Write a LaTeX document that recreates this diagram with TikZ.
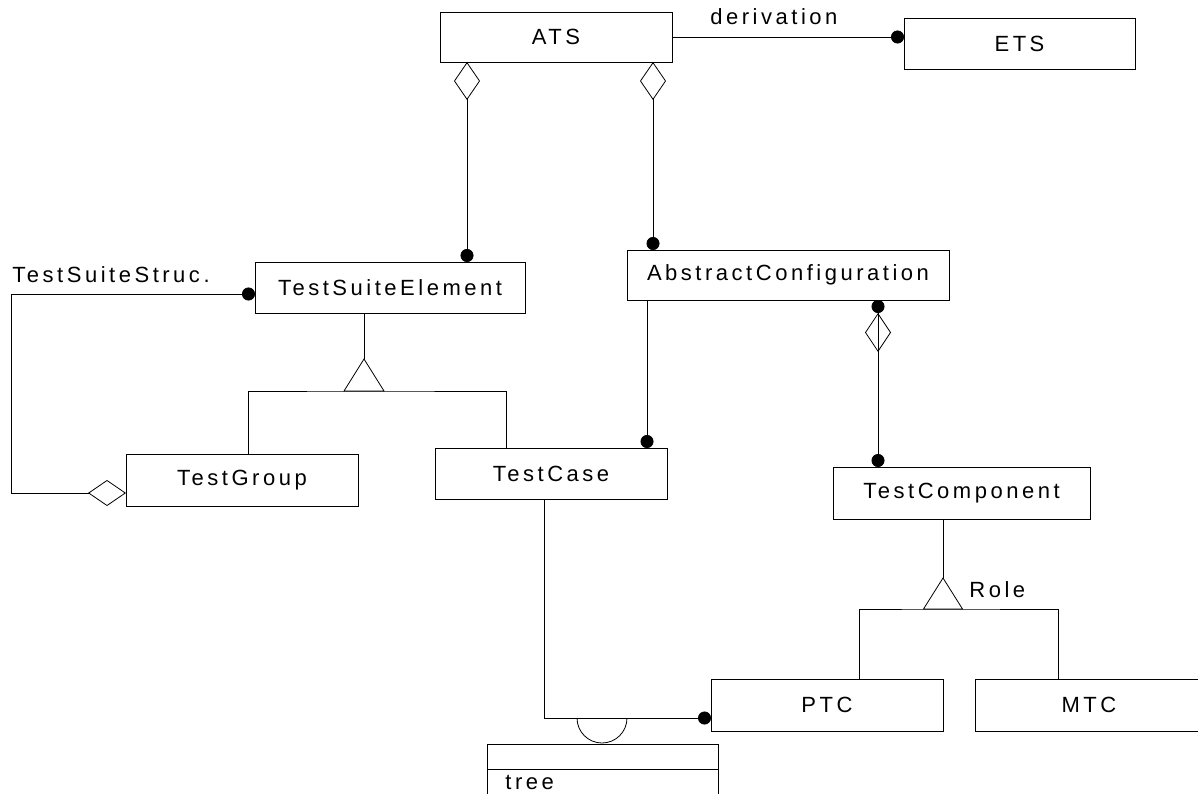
\documentclass[tikz,border=0pt]{standalone}
\usepackage{fontspec}
\setmainfont{Liberation Sans}[LetterSpace=16]
\usetikzlibrary{arrows.meta,calc}
\newcommand\diafont{\fontsize{22}{26}\selectfont}
\begin{document}
\begin{tikzpicture}[x=1pt,y=-1pt,line width=0.8pt,
  box/.style={draw,rectangle,inner sep=0pt,outer sep=0pt,minimum height=51pt,font=\diafont},
  lbl/.style={inner sep=0pt,anchor=base west,font=\diafont},
  assoc/.style={-{Circle[length=13pt,width=13pt]}},
  aggassoc/.style={{Diamond[open,length=38pt,width=26pt]}-{Circle[length=13pt,width=13pt]}},
  dotaggassoc/.style={{Circle[length=13pt,width=13pt]Diamond[open,length=39pt,width=26pt]}-{Circle[length=13pt,width=13pt]}},
  inherit/.style={line join=miter}]
\path[use as bounding box] (0,0) rectangle (1198,794);
\clip (0,0) rectangle (1198,794);

% classes
\node[box,minimum width=232pt,minimum height=50pt] (ats)   at (556,37)    {ATS};
\node[box,minimum width=231pt] (ets)   at (1019.5,43.5) {ETS};
\node[box,minimum width=270pt] (tse)   at (390,287.5) {TestSuiteElement};
\node[box,minimum width=322pt,minimum height=50pt] (ac) at (788,275) {AbstractConfiguration};
\node[box,minimum width=232pt,minimum height=52pt] (tg)    at (242,480)   {TestGroup};
\node[box,minimum width=232pt] (tc)    at (551,473.5) {TestCase};
\node[box,minimum width=257pt,minimum height=52pt] (tcomp) at (961.5,493) {TestComponent};
\node[box,minimum width=232pt,minimum height=52pt] (ptc)   at (827,705)   {PTC};
\node[box,minimum width=228pt,minimum height=52pt] (mtc)   at (1089,705)  {MTC};
\node[box,minimum width=231pt,minimum height=60pt,anchor=north west] (tree) at (487,744) {};
\draw ($(tree.north west)+(0,25)$) -- ($(tree.north east)+(0,25)$);
\node[lbl] at (505,789) {tree};

% derivation
\draw[assoc] (ats.east) -- (ats.east -| ets.west);
\node[lbl] at (710,25) {derivation};

% ATS aggregations
\draw[aggassoc] ($(ats.south west)+(27,0)$) coordinate (a1) -- (a1 |- tse.north);
\draw[aggassoc] ($(ats.south west)+(213,0)$) coordinate (a2) -- (a2 |- ac.north);

% AbstractConfiguration links
\draw[assoc] ($(ac.south west)+(20,0)$) coordinate (c1) -- (c1 |- tc.north);
\draw[dotaggassoc] ($(ac.south west)+(251,0)$) coordinate (c2) -- (c2 |- tcomp.north);

% test suite structure loop
\draw[aggassoc] ($(tg.south west)+(0,-13)$) -- ++(-115,0) |- ($(tse.south west)+(0,-19)$);
\node[lbl] at (12,282) {TestSuiteStruc.};

% TestSuiteElement specialisation
\coordinate (g1) at ($(tse.south west)+(109,46)$);
\draw ($(tse.south west)+(109,0)$) -- (g1);
\draw[inherit] (g1) -- ++(-20,32) -- ++(40,0) -- cycle;
\draw ($(tg.north west)+(122,0)$) |- ($(g1)+(0,32)$) -| ($(tc.north west)+(71,0)$);

% TestComponent specialisation (Role)
\coordinate (g2) at ($(tcomp.south west)+(110,59)$);
\draw ($(tcomp.south west)+(110,0)$) -- (g2);
\draw[inherit] (g2) -- ++(-19.5,31) -- ++(39,0) -- cycle;
\draw ($(ptc.north west)+(148,0)$) |- ($(g2)+(0,31)$) -| ($(mtc.north west)+(83,0)$);
\node[lbl] at (969,597) {Role};

% TestCase to PTC with tree socket
\draw[assoc] ($(tc.south west)+(109,0)$) |- ($(ptc.south west)+(0,-13)$);
\draw (577,718) arc[start angle=180,end angle=0,radius=25];
\end{tikzpicture}
\end{document}
